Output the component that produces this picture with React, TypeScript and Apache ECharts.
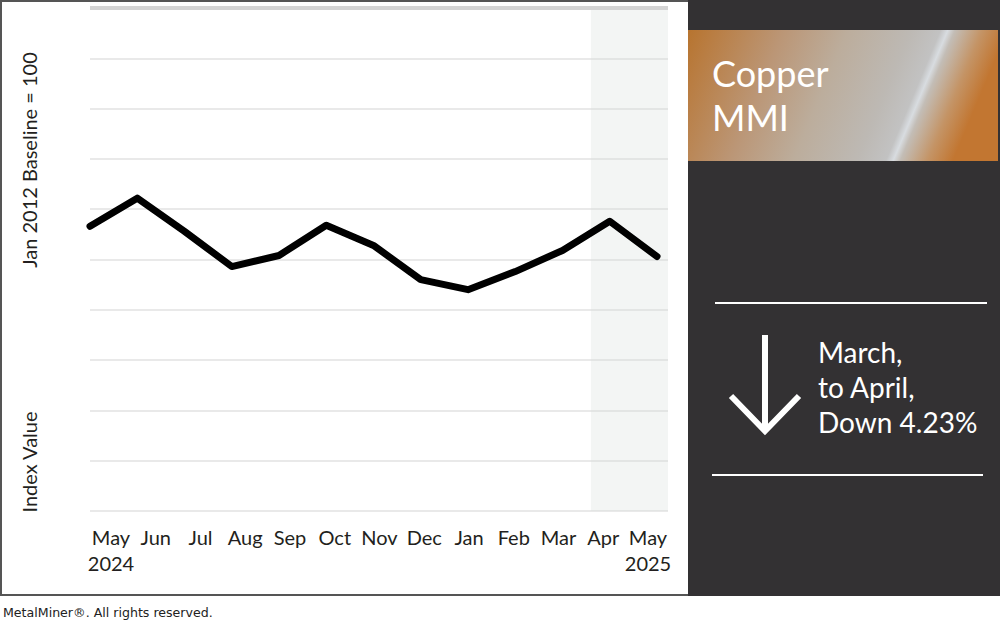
import React, { useEffect, useRef } from "react";
import * as echarts from "echarts";

const monthLabels = ["May\n2024", "Jun", "Jul", "Aug", "Sep", "Oct", "Nov", "Dec", "Jan", "Feb", "Mar", "Apr", "May\n2025"];
const indexValues = [98.3, 101.1, 97.8, 94.3, 95.4, 98.4, 96.4, 93.0, 92.0, 93.8, 95.9, 98.8, 95.3];
const yMin = 70;
const yMax = 120;
const yInterval = 5;
const xMax = 12.23;
const shadeStart = 10.6;

const titleLines = "Copper\nMMI";
const changeText = "March,\nto April,\nDown 4.23%";
const yNameTop = "Jan 2012 Baseline = 100";
const yNameBottom = "Index Value";
const footer = "MetalMiner®. All rights reserved.";

const FONT = "Lato, 'Open Sans', sans-serif";
const TXT = "#231f20";

const hiddenY = (gridIndex: number, splitShow: boolean) => ({
  gridIndex,
  type: "value",
  min: yMin,
  max: yMax,
  interval: yInterval,
  axisLine: { show: false },
  axisTick: { show: false },
  axisLabel: { show: false },
  splitLine: { show: splitShow, lineStyle: { color: "#e2e2e2", width: 1.5 } },
});

export default function App() {
  const ref = useRef<HTMLDivElement>(null);
  useEffect(() => {
    if (!ref.current) return;
    const chart = echarts.init(ref.current, undefined, { renderer: "svg" });
    chart.setOption({
      animation: false,
      grid: [
        { left: 90, right: 332, top: 8, bottom: 111 },
        { left: 90, right: 343, top: 8, bottom: 111 },
        { left: 111, right: 352, top: 8, bottom: 111 },
      ],
      xAxis: [
        {
          gridIndex: 0,
          type: "value",
          min: 0,
          max: xMax,
          interval: 1,
          axisLine: { show: false },
          axisTick: { show: false },
          splitLine: { show: false },
          axisLabel: { show: false },
        },
        {
          gridIndex: 1,
          type: "category",
          data: monthLabels,
          boundaryGap: false,
          axisLine: { show: false },
          axisTick: { show: false },
          splitLine: { show: false },
          axisLabel: { show: false },
        },
        {
          gridIndex: 2,
          type: "category",
          data: monthLabels,
          boundaryGap: false,
          axisLine: { show: false },
          axisTick: { show: false },
          splitLine: { show: false },
          axisLabel: {
            interval: 0,
            fontFamily: FONT,
            fontSize: 20,
            lineHeight: 26,
            color: TXT,
            margin: 13,
          },
        },
      ],
      yAxis: [hiddenY(0, true), hiddenY(1, false), hiddenY(2, false)],
      series: [
        {
          type: "line",
          xAxisIndex: 0,
          yAxisIndex: 0,
          data: [],
          markArea: {
            silent: true,
            itemStyle: { color: "rgba(215,222,218,0.3)" },
            data: [[{ xAxis: shadeStart }, { xAxis: xMax }]],
          },
          markLine: {
            silent: true,
            symbol: ["none", "none"],
            label: { show: false },
            lineStyle: { color: "#d4d4d4", width: 4, type: "solid" },
            data: [{ yAxis: yMax }],
          },
        },
        {
          type: "line",
          xAxisIndex: 1,
          yAxisIndex: 1,
          data: indexValues,
          symbol: "none",
          lineStyle: { color: "#000", width: 7, cap: "round", join: "round" },
          z: 5,
        },
      ],
      graphic: [
        { type: "rect", shape: { x: 1, y: 1, width: 998, height: 594 }, style: { fill: "none", stroke: "#555", lineWidth: 2 }, z: 10 },
        { type: "rect", shape: { x: 688, y: 0, width: 312, height: 596 }, style: { fill: "#333133" }, z: 11 },
        {
          type: "rect",
          shape: { x: 688, y: 30, width: 310, height: 131 },
          style: {
            fill: new echarts.graphic.LinearGradient(0, 0, 1, 0.177, [
              { offset: 0, color: "#b7742f" },
              { offset: 0.08, color: "#b97d42" },
              { offset: 0.3, color: "#bb9676" },
              { offset: 0.5, color: "#bcad9c" },
              { offset: 0.7, color: "#bdb9b4" },
              { offset: 0.79, color: "#c2c2c2" },
              { offset: 0.813, color: "#d8dce0" },
              { offset: 0.835, color: "#c3bdb6" },
              { offset: 0.92, color: "#c49466" },
              { offset: 1, color: "#c27631" },
            ]),
          },
          z: 12,
        },
        {
          type: "text",
          x: 712,
          y: 51,
          z: 13,
          style: { text: titleLines, fontFamily: FONT, fontSize: 36, lineHeight: 44, fill: "#fff", align: "left", verticalAlign: "top" },
        },
        { type: "line", shape: { x1: 715, y1: 303, x2: 987, y2: 303 }, style: { stroke: "#fff", lineWidth: 2 }, z: 13 },
        { type: "line", shape: { x1: 712, y1: 475, x2: 983, y2: 475 }, style: { stroke: "#fff", lineWidth: 2 }, z: 13 },
        { type: "line", shape: { x1: 765, y1: 335, x2: 765, y2: 430 }, style: { stroke: "#fff", lineWidth: 6 }, z: 13 },
        {
          type: "polyline",
          shape: { points: [[731, 396], [765, 431], [799, 396]] },
          style: { stroke: "#fff", lineWidth: 6, fill: "none", lineJoin: "miter" },
          z: 13,
        },
        {
          type: "text",
          x: 818,
          y: 334,
          z: 13,
          style: { text: changeText, fontFamily: FONT, fontSize: 28, lineHeight: 35, fill: "#fff", align: "left", verticalAlign: "top" },
        },
        {
          type: "text",
          x: 29,
          y: 160,
          rotation: Math.PI / 2,
          z: 13,
          style: { text: yNameTop, fontFamily: FONT, fontSize: 20, fill: TXT, align: "center", verticalAlign: "middle" },
        },
        {
          type: "text",
          x: 29,
          y: 462,
          rotation: Math.PI / 2,
          z: 13,
          style: { text: yNameBottom, fontFamily: FONT, fontSize: 20, fill: TXT, align: "center", verticalAlign: "middle" },
        },
        {
          type: "text",
          x: 3,
          y: 612,
          z: 13,
          style: { text: footer, fontFamily: "'DejaVu Sans', Verdana, sans-serif", fontSize: 12.6, fill: "#222", align: "left", verticalAlign: "middle" },
        },
      ],
    });
    return () => chart.dispose();
  }, []);
  return <div ref={ref} style={{ position: "absolute", left: 0, top: 0, width: 1000, height: 622, background: "#fff" }} />;
}
